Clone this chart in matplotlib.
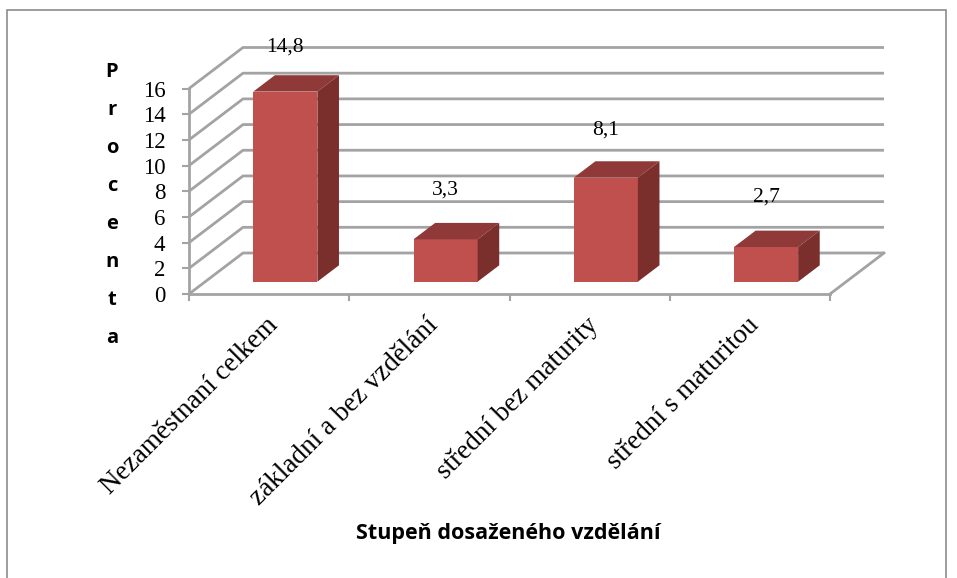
import numpy as np
import matplotlib
matplotlib.use("Agg")
import matplotlib.pyplot as plt
from matplotlib.patches import Polygon, Rectangle

# data
categories = ["Nezaměstnaní celkem", "základní a bez vzdělání",
              "střední bez maturity", "střední s maturitou"]
values = [14.8, 3.3, 8.1, 2.7]
value_labels = ["14,8", "3,3", "8,1", "2,7"]
y_ticks = [0, 2, 4, 6, 8, 10, 12, 14, 16]
y_title = "Procenta"
x_title = "Stupeň dosaženého vzdělání"

FRONT = "#c0504d"
TOP = "#8f3a38"
SIDE = "#7b2f2d"
GRID = "#a3a3a3"

plt.rcParams["font.family"] = ["Liberation Serif", "DejaVu Serif"]

W, H = 957, 578
fig = plt.figure(figsize=(W / 100, H / 100), dpi=100)

# front plane of the 3d box (pixels)
left, right, bottom, top = 189, 830, 294, 88.5
ax = fig.add_axes([left / W, 1 - bottom / H, (right - left) / W, (bottom - top) / H])
n = len(values)
ax.set_xlim(-0.5, n - 0.5)
ax.set_ylim(0, 16)

# depth of the box in pixels -> data units
ux = (right - left) / n
uy = (bottom - top) / 16
ddx, ddy = 54 / ux, 41 / uy

# back wall gridlines + left wall diagonals
for t in y_ticks:
    ax.plot([-0.5, -0.5 + ddx, n - 0.5 + ddx], [t, t + ddy, t + ddy],
            color=GRID, lw=2, clip_on=False, zorder=1, solid_capstyle="butt")
# right edge of the floor
ax.plot([n - 0.5, n - 0.5 + ddx], [0, ddy], color=GRID, lw=2, clip_on=False, zorder=1)

# bars: front face at 30% depth, 40% deep
f0, f1 = 0.3, 0.7
bw = 0.4
x = np.arange(n)
bx = x + f0 * ddx
base = f0 * ddy
ax.bar(bx, values, width=bw, bottom=base, color=FRONT, zorder=3, clip_on=False)
sx, sy = (f1 - f0) * ddx, (f1 - f0) * ddy
for xi, v in zip(bx, values):
    x0, x1 = xi - bw / 2, xi + bw / 2
    top_face = [(x0, base + v), (x1, base + v), (x1 + sx, base + v + sy), (x0 + sx, base + v + sy)]
    side_face = [(x1, base), (x1 + sx, base + sy), (x1 + sx, base + v + sy), (x1, base + v)]
    ax.add_patch(Polygon(top_face, closed=True, fc=TOP, ec="none", zorder=3, clip_on=False))
    ax.add_patch(Polygon(side_face, closed=True, fc=SIDE, ec="none", zorder=3, clip_on=False))

# value labels
for xi, v, lab in zip(bx, values, value_labels):
    ax.text(xi, 4.9 + 0.97 * v, lab, ha="center", va="center", fontsize=15.5, zorder=4)

# axes
for s in ["top", "right"]:
    ax.spines[s].set_visible(False)
for s in ["left", "bottom"]:
    ax.spines[s].set_color(GRID)
    ax.spines[s].set_linewidth(2)
ax.set_yticks(y_ticks)
ax.set_yticklabels([str(t) for t in y_ticks], fontsize=16.5)
ax.tick_params(axis="y", length=5, width=1.5, color=GRID, pad=12)

# category labels sit a little right of the category centre
ax.set_xticks(x + 5 / ux)
ax.set_xticklabels(categories, fontsize=19.5, rotation=45, ha="right", va="center",
                   rotation_mode="anchor")
ax.tick_params(axis="x", which="major", length=0, pad=20)
ax.set_xticks(np.arange(n + 1) - 0.5, minor=True)
ax.tick_params(axis="x", which="minor", length=5, width=1.5, color=GRID)

ax.set_ylabel("\n".join(y_title), rotation=0, family="Open Sans", fontweight="bold",
              fontsize=14.5, linespacing=2.2, ha="center", va="center")
ax.yaxis.set_label_coords((112 - left) / (right - left), (bottom - 205) / (bottom - top))

fig.text(508 / W, 1 - 533 / H, x_title, ha="center", va="center",
         family="Open Sans", fontweight="bold", fontsize=15.5)

# chart border
fig.patches.append(Rectangle((7 / W, -0.05), (946 - 7) / W, 1.05 - 10 / H,
                             transform=fig.transFigure, fill=False,
                             ec="#8c8c8c", lw=1.2))

fig.savefig("out.png", dpi=100)
